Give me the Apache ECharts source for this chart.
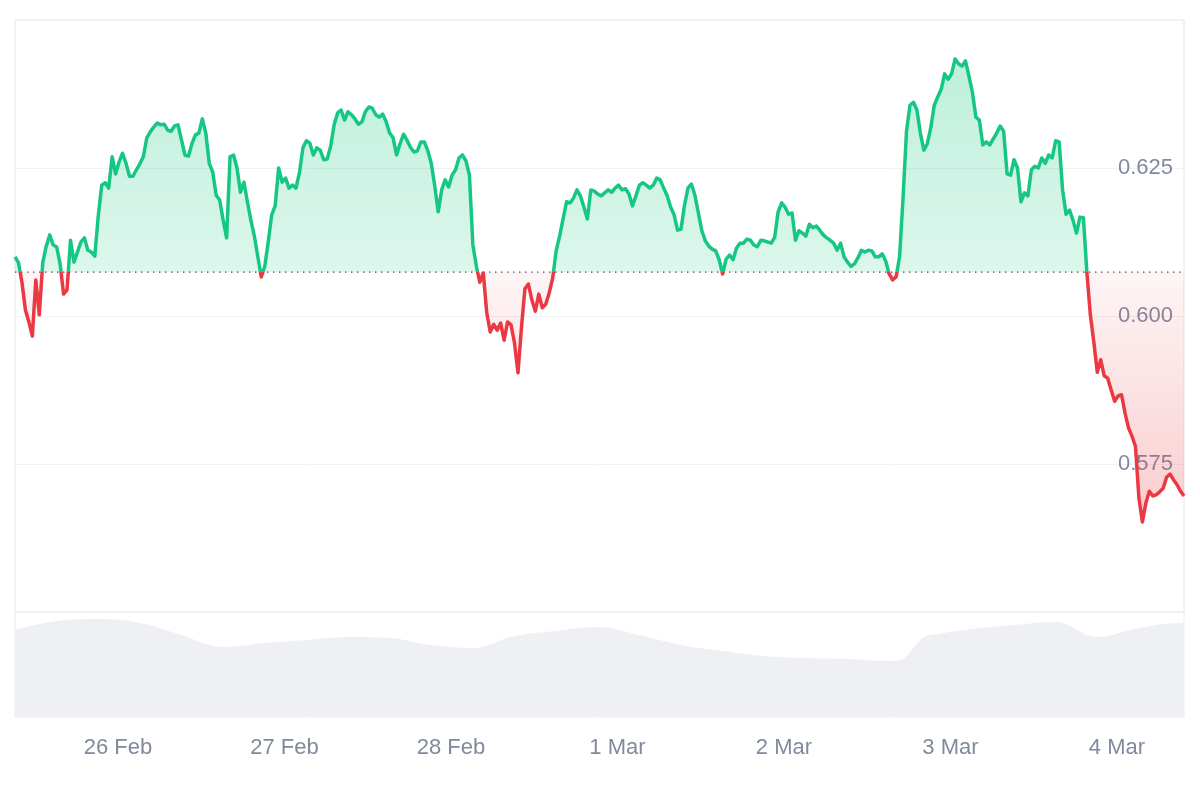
<!DOCTYPE html>
<html>
<head>
<meta charset="utf-8">
<script src="https://cdn.jsdelivr.net/npm/echarts@6/dist/echarts.min.js"></script>
<style>
html,body{margin:0;padding:0;background:#ffffff;}
#chart{width:1200px;height:800px;}
</style>
</head>
<body>
<div id="chart"></div>
<script>
// ---- data ----
const startTime = new Date(2025, 1, 25, 9, 10, 0).getTime(); // 25 Feb 09:10
const stepMinutes = 30;
const baseline = 0.6074;

const prices = [
  0.6100,0.6090,0.6057,0.6010,0.5990,0.5966,0.6061,0.6002,0.6090,0.6118,
  0.6137,0.6120,0.6117,0.6088,0.6037,0.6044,0.6128,0.6091,0.6108,0.6125,
  0.6132,0.6111,0.6108,0.6101,0.6169,0.6221,0.6225,0.6216,0.6269,0.6240,
  0.6260,0.6275,0.6258,0.6236,0.6236,0.6247,0.6257,0.6269,0.6301,0.6311,
  0.6319,0.6326,0.6323,0.6324,0.6314,0.6312,0.6321,0.6323,0.6297,0.6272,
  0.6270,0.6291,0.6306,0.6309,0.6333,0.6309,0.6258,0.6243,0.6204,0.6196,
  0.6162,0.6132,0.6269,0.6272,0.6250,0.6209,0.6226,0.6193,0.6162,0.6135,
  0.6100,0.6066,0.6084,0.6125,0.6171,0.6186,0.6250,0.6226,0.6233,0.6216,
  0.6221,0.6216,0.6242,0.6284,0.6296,0.6292,0.6272,0.6284,0.6280,0.6264,
  0.6265,0.6287,0.6323,0.6343,0.6348,0.6331,0.6345,0.6340,0.6333,0.6324,
  0.6328,0.6345,0.6353,0.6351,0.6340,0.6336,0.6341,0.6328,0.6309,0.6301,
  0.6272,0.6291,0.6307,0.6297,0.6285,0.6277,0.6279,0.6294,0.6294,0.6279,
  0.6258,0.6220,0.6176,0.6213,0.6230,0.6218,0.6238,0.6247,0.6267,0.6272,
  0.6262,0.6238,0.6120,0.6084,0.6057,0.6073,0.6005,0.5973,0.5986,0.5976,
  0.5988,0.5959,0.5990,0.5985,0.5954,0.5904,0.5980,0.6046,0.6054,0.6027,
  0.6008,0.6037,0.6014,0.6020,0.6039,0.6064,0.6110,0.6135,0.6164,0.6193,
  0.6191,0.6199,0.6213,0.6203,0.6184,0.6164,0.6213,0.6211,0.6206,0.6203,
  0.6208,0.6213,0.6209,0.6216,0.6221,0.6213,0.6215,0.6206,0.6186,0.6203,
  0.6221,0.6225,0.6221,0.6216,0.6221,0.6233,0.6230,0.6216,0.6203,0.6184,
  0.6171,0.6145,0.6147,0.6187,0.6216,0.6223,0.6204,0.6174,0.6144,0.6127,
  0.6118,0.6113,0.6110,0.6095,0.6071,0.6096,0.6103,0.6095,0.6115,0.6123,
  0.6123,0.6130,0.6128,0.6120,0.6117,0.6128,0.6127,0.6125,0.6123,0.6133,
  0.6176,0.6191,0.6184,0.6172,0.6174,0.6128,0.6144,0.6140,0.6135,0.6155,
  0.6149,0.6152,0.6145,0.6137,0.6132,0.6128,0.6123,0.6111,0.6123,0.6100,
  0.6091,0.6084,0.6088,0.6098,0.6111,0.6108,0.6111,0.6110,0.6100,0.6100,
  0.6105,0.6093,0.6071,0.6061,0.6066,0.6100,0.6199,0.6312,0.6356,0.6361,
  0.6348,0.6309,0.6280,0.6291,0.6318,0.6356,0.6370,0.6383,0.6409,0.6400,
  0.6409,0.6434,0.6426,0.6422,0.6431,0.6405,0.6378,0.6336,0.6331,0.6289,
  0.6294,0.6289,0.6299,0.6309,0.6321,0.6312,0.6240,0.6238,0.6264,0.6250,
  0.6193,0.6208,0.6203,0.6247,0.6253,0.6250,0.6267,0.6258,0.6272,0.6267,
  0.6296,0.6294,0.6213,0.6172,0.6179,0.6162,0.6140,0.6167,0.6166,0.6074,
  0.6002,0.5956,0.5905,0.5926,0.5899,0.5895,0.5875,0.5856,0.5865,0.5867,
  0.5836,0.5811,0.5797,0.5780,0.5693,0.5652,0.5684,0.5704,0.5696,0.5698,
  0.5703,0.5709,0.5728,0.5733,0.5723,0.5715,0.5704,0.5696
];

// trading volume (millions, relative scale) at hours since start
const volumeHours = [0,6,12,18,24,30,36,42,48,54,60,66,72,78,84,90,96,102,108,114,120,126,127,131,132,138,144,150,156,162,168,168.5];
const volumes     = [87,96,98,94,82,70,74,77,80,79,72,69,81,86,90,82,72,66,61,59,58,56,56,80,82,88,92,95,80,89,94,94];

const priceMin = 0.55, priceMax = 0.65, priceStep = 0.025;
const monthNames = ['Jan','Feb','Mar','Apr','May','Jun','Jul','Aug','Sep','Oct','Nov','Dec'];

// ---- build ----
const stepMs = stepMinutes * 60 * 1000;
const endTime = startTime + (prices.length - 1) * stepMs;
const times = prices.map((v, i) => startTime + i * stepMs);
const priceData = prices.map((v, i) => [times[i], v]);
const baseData = prices.map((v, i) => [times[i], baseline]);
const diffData = prices.map((v, i) => [times[i], v - baseline]);
const volumeData = volumes.map((v, i) => [startTime + volumeHours[i] * 3600 * 1000, v]);

const GREEN = '#16c784', RED = '#ea3943';
const baseFrac = (priceMax - baseline) / (priceMax - priceMin);
const gridTop = 20, gridMainH = 592, gridVolH = 105;

const chart = echarts.init(document.getElementById('chart'), null, {renderer: 'canvas'});
const labelFont = {color: '#808a9d', fontSize: 22, fontFamily: '"Liberation Sans", Arial, sans-serif'};

chart.setOption({
  animation: false,
  backgroundColor: '#ffffff',
  grid: [
    {left: 15, right: 16, top: gridTop, height: gridMainH, show: true, borderColor: '#e4e6ea', borderWidth: 1},
    {left: 15, right: 16, top: gridTop + gridMainH, height: gridVolH, show: true, borderColor: '#e9ebee', borderWidth: 1}
  ],
  xAxis: [
    {type: 'time', gridIndex: 0, min: startTime, max: endTime, show: false},
    {type: 'time', gridIndex: 1, min: startTime, max: endTime,
     minInterval: 86400000, maxInterval: 86400000,
     axisLine: {show: false}, axisTick: {show: false}, splitLine: {show: false},
     axisLabel: Object.assign({margin: 20, hideOverlap: false,
       formatter: (val) => { const d = new Date(val); return d.getDate() + ' ' + monthNames[d.getMonth()]; }
     }, labelFont)}
  ],
  yAxis: [
    {type: 'value', gridIndex: 0, position: 'right', min: priceMin, max: priceMax, interval: priceStep,
     axisLine: {show: false}, axisTick: {show: false},
     splitLine: {show: true, lineStyle: {color: '#f0f1f3', width: 1}},
     axisLabel: Object.assign({inside: true, margin: 11,
       formatter: (v) => (v > priceMin + 1e-6 && v < priceMax - 1e-6) ? v.toFixed(3) : ''
     }, labelFont)},
    {type: 'value', gridIndex: 1, min: 0, max: gridVolH, show: false, splitLine: {show: false}}
  ],
  visualMap: {
    type: 'piecewise', show: false, seriesIndex: 2, dimension: 1,
    pieces: [
      {gte: priceMin - 1, lt: baseline, color: RED},
      {gte: baseline, lte: priceMax + 1, color: GREEN}
    ]
  },
  series: [
    {
      name: 'Baseline', type: 'line', xAxisIndex: 0, yAxisIndex: 0,
      data: baseData, showSymbol: false, symbol: 'none', silent: true,
      stack: 'band', stackStrategy: 'all',
      lineStyle: {color: '#4b5260', type: [1.5, 4.5], width: 1.2},
      z: 4
    },
    {
      name: 'Band', type: 'line', xAxisIndex: 0, yAxisIndex: 0,
      data: diffData, showSymbol: false, symbol: 'none', silent: true,
      stack: 'band', stackStrategy: 'all',
      lineStyle: {width: 0, opacity: 0},
      areaStyle: {
        opacity: 1,
        color: {
          type: 'linear', x: 0, y: gridTop, x2: 0, y2: gridTop + gridMainH, global: true,
          colorStops: [
            {offset: 0, color: 'rgba(22,199,132,0.30)'},
            {offset: baseFrac, color: 'rgba(22,199,132,0.15)'},
            {offset: baseFrac, color: 'rgba(234,57,67,0.05)'},
            {offset: 1, color: 'rgba(234,57,67,0.33)'}
          ]
        }
      },
      z: 2
    },
    {
      name: 'Price', type: 'line', xAxisIndex: 0, yAxisIndex: 0,
      data: priceData, showSymbol: false, symbol: 'none',
      lineStyle: {width: 3.5, join: 'round'},
      z: 5
    },
    {
      name: 'Volume', type: 'line', xAxisIndex: 1, yAxisIndex: 1,
      data: volumeData, smooth: 0.4, showSymbol: false, symbol: 'none',
      lineStyle: {width: 0},
      areaStyle: {color: '#eef0f4', opacity: 1},
      z: 1
    }
  ]
});
</script>
</body>
</html>
